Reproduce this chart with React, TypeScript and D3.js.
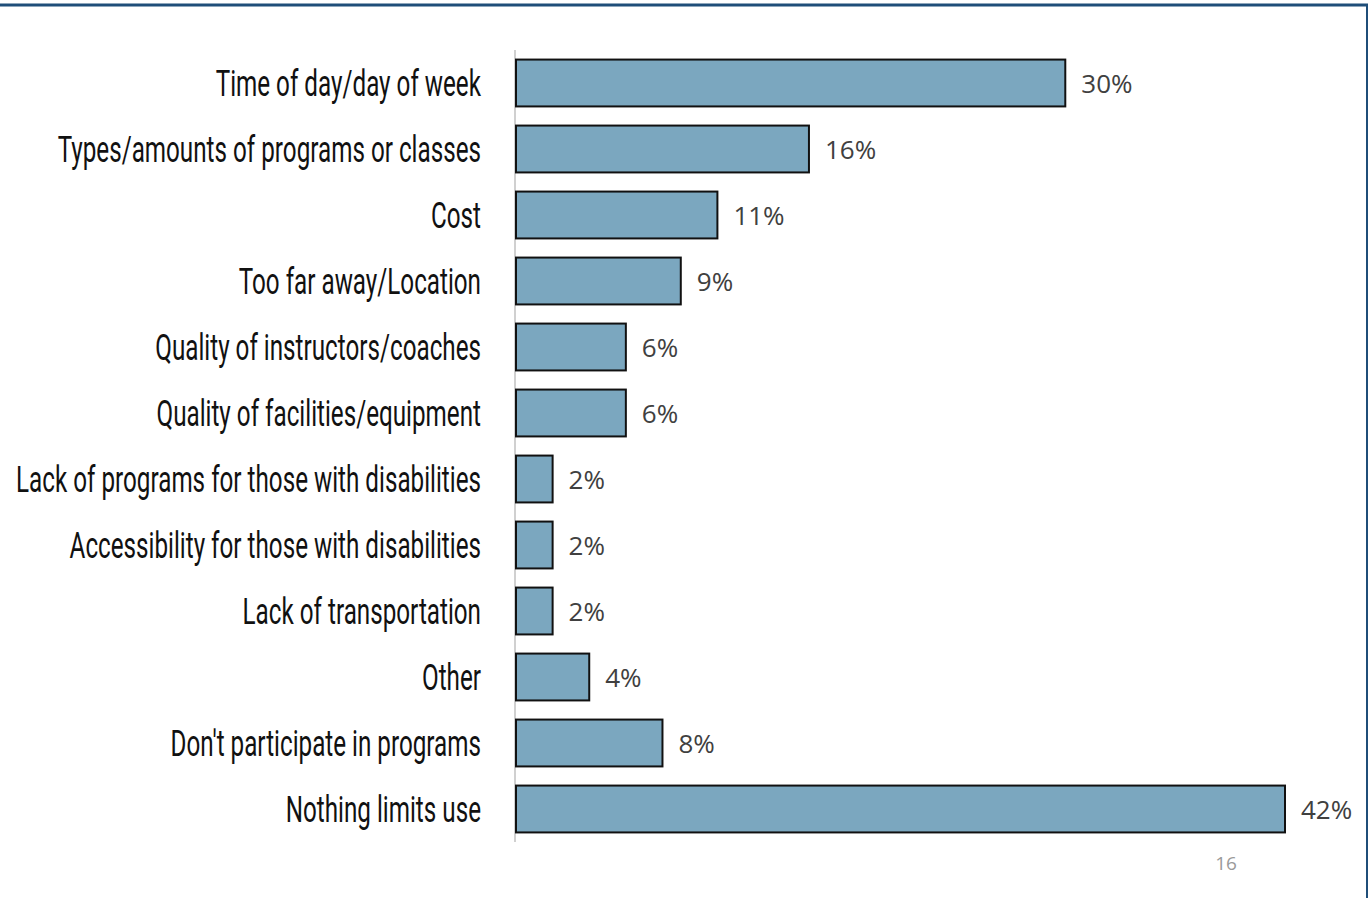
import * as d3 from 'd3'
import { useEffect, useRef } from 'react'

const categories = [
  'Time of day/day of week',
  'Types/amounts of programs or classes',
  'Cost',
  'Too far away/Location',
  'Quality of instructors/coaches',
  'Quality of facilities/equipment',
  'Lack of programs for those with disabilities',
  'Accessibility for those with disabilities',
  'Lack of transportation',
  'Other',
  "Don't participate in programs",
  'Nothing limits use',
]
const values = [30, 16, 11, 9, 6, 6, 2, 2, 2, 4, 8, 42]
const pageNumber = '16'

export default function App() {
  const svgRef = useRef<SVGSVGElement>(null)

  useEffect(() => {
    if (!svgRef.current) return
    const svg = d3.select(svgRef.current)
    svg.selectAll('*').remove()

    const W = 1370
    const H = 898
    const x0 = 516
    const x = d3.scaleLinear().domain([0, 42]).range([x0, x0 + 769])
    const y = d3.scaleBand().domain(categories).range([50, 842]).paddingInner(0.29).paddingOuter(0.145)

    // frame
    svg.append('line').attr('x1', 0).attr('x2', 1368).attr('y1', 5).attr('y2', 5)
      .attr('stroke', '#1f4e79').attr('stroke-width', 3)
    svg.append('line').attr('x1', 1367).attr('x2', 1367).attr('y1', 4).attr('y2', H)
      .attr('stroke', '#1f4e79').attr('stroke-width', 2)

    // axis line
    svg.append('line').attr('x1', x0 - 1).attr('x2', x0 - 1).attr('y1', 50).attr('y2', 842)
      .attr('stroke', '#d0d0d0').attr('stroke-width', 2)

    const rows = svg.append('g').selectAll('g').data(categories).join('g')

    rows.append('rect')
      .attr('x', x0)
      .attr('y', (d) => y(d)!)
      .attr('width', (_, i) => x(values[i]) - x0)
      .attr('height', y.bandwidth())
      .attr('fill', '#7ba7bf')
      .attr('stroke', '#111')
      .attr('stroke-width', 2)

    // condensed category labels: squeeze a regular face horizontally
    const labels = rows.append('text')
      .attr('text-anchor', 'end')
      .attr('dy', '0.36em')
      .attr('font-family', 'Roboto, sans-serif')
      .attr('font-size', 37)
      .attr('fill', '#111')
      .text((d) => d)
    let maxW = 0
    labels.each(function () {
      maxW = Math.max(maxW, (this as SVGTextElement).getComputedTextLength())
    })
    const sx = maxW > 0 ? 465 / maxW : 0.6
    labels.attr('transform', (d) => `translate(481,${y(d)! + y.bandwidth() / 2}) scale(${sx},1)`)

    rows.append('text')
      .attr('x', (_, i) => x(values[i]) + 16)
      .attr('y', (d) => y(d)! + y.bandwidth() / 2)
      .attr('dy', '0.4em')
      .attr('font-family', '"Open Sans", Lato, sans-serif')
      .attr('font-size', 26)
      .attr('fill', '#404040')
      .text((_, i) => `${values[i]}%`)

    svg.append('text')
      .attr('x', 1226).attr('y', 870)
      .attr('text-anchor', 'middle')
      .attr('font-family', '"Open Sans", Lato, sans-serif')
      .attr('font-size', 19)
      .attr('fill', '#9a9a9a')
      .text(pageNumber)
    svg.attr('viewBox', `0 0 ${W} ${H}`)
  }, [])

  return (
    <svg
      ref={svgRef}
      width={1370}
      height={898}
      style={{ position: 'absolute', left: 0, top: 0, background: '#fff' }}
    />
  )
}
